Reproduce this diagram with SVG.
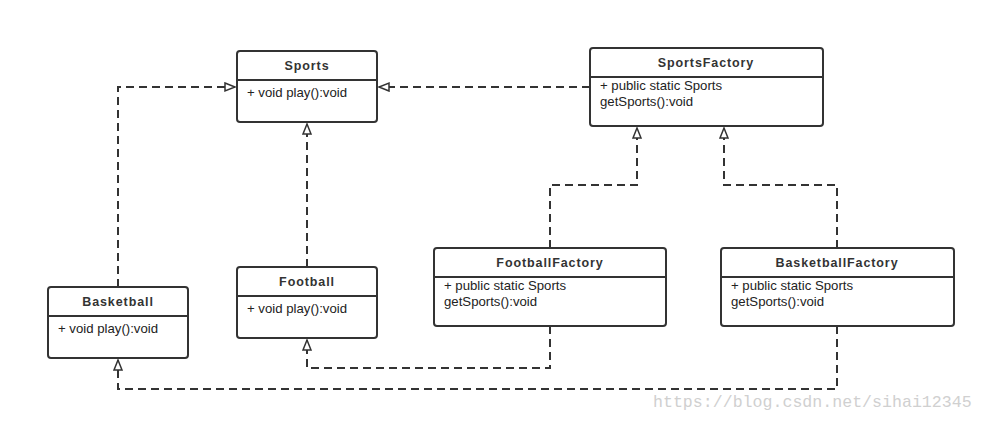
<svg xmlns="http://www.w3.org/2000/svg" width="986" height="421" viewBox="0 0 986 421">
<style>
.box{fill:#fff;stroke:#333;stroke-width:2}
.div{stroke:#333;stroke-width:2}
.t{font-family:"Liberation Sans",Arial,sans-serif;font-size:12.5px;font-weight:bold;fill:#333;text-anchor:middle;letter-spacing:0.9px}
.a{font-family:"Liberation Sans",Arial,sans-serif;font-size:13.2px;fill:#222}
.c{fill:none;stroke:#333;stroke-width:2;stroke-dasharray:8 5}
.wm{font-family:"Liberation Mono",monospace;font-size:16.6px;fill:#d0d0d0}
</style>
<defs>
<marker id="tri" markerWidth="14" markerHeight="12" refX="11" refY="5" orient="auto" markerUnits="userSpaceOnUse">
<path d="M1,1 L11,5 L1,9 Z" fill="#fff" stroke="#333" stroke-width="1.5"/>
</marker>
</defs>
<rect width="986" height="421" fill="#fff"/>
<g id="connectors">
<path class="c" d="M118,287 V87 H235" marker-end="url(#tri)"/>
<path class="c" d="M590,87 H379" marker-end="url(#tri)"/>
<path class="c" d="M307,267 V124" marker-end="url(#tri)"/>
<path class="c" d="M550,248 V185 H637 V128" marker-end="url(#tri)"/>
<path class="c" d="M837,248 V185 H724 V128" marker-end="url(#tri)"/>
<path class="c" d="M550,326 V368 H307 V340" marker-end="url(#tri)"/>
<path class="c" d="M837,326 V389 H118 V360" marker-end="url(#tri)"/>
</g>
<g id="Sports">
<rect class="box" x="237" y="51" width="140" height="71" rx="3"/>
<line class="div" x1="237" y1="80" x2="377" y2="80"/>
<text class="t" x="307" y="70">Sports</text>
<text class="a" x="247" y="97">+ void play():void</text>
</g>
<g id="SportsFactory">
<rect class="box" x="590" y="48" width="233" height="78" rx="3"/>
<line class="div" x1="590" y1="77" x2="823" y2="77"/>
<text class="t" x="706" y="67">SportsFactory</text>
<text class="a" x="600" y="90">+ public static Sports</text>
<text class="a" x="600" y="106">getSports():void</text>
</g>
<g id="Basketball">
<rect class="box" x="48" y="287" width="140" height="71" rx="3"/>
<line class="div" x1="48" y1="316" x2="188" y2="316"/>
<text class="t" x="118" y="306">Basketball</text>
<text class="a" x="58" y="333">+ void play():void</text>
</g>
<g id="Football">
<rect class="box" x="237" y="267" width="140" height="71" rx="3"/>
<line class="div" x1="237" y1="296" x2="377" y2="296"/>
<text class="t" x="307" y="286">Football</text>
<text class="a" x="247" y="313">+ void play():void</text>
</g>
<g id="FootballFactory">
<rect class="box" x="434" y="248" width="232" height="78" rx="3"/>
<line class="div" x1="434" y1="277" x2="666" y2="277"/>
<text class="t" x="550" y="267">FootballFactory</text>
<text class="a" x="444" y="290">+ public static Sports</text>
<text class="a" x="444" y="306">getSports():void</text>
</g>
<g id="BasketballFactory">
<rect class="box" x="721" y="248" width="233" height="78" rx="3"/>
<line class="div" x1="721" y1="277" x2="954" y2="277"/>
<text class="t" x="837" y="267">BasketballFactory</text>
<text class="a" x="731" y="290">+ public static Sports</text>
<text class="a" x="731" y="306">getSports():void</text>
</g>
<text class="wm" x="653" y="407">https://blog.csdn.net/sihai12345</text>
</svg>
